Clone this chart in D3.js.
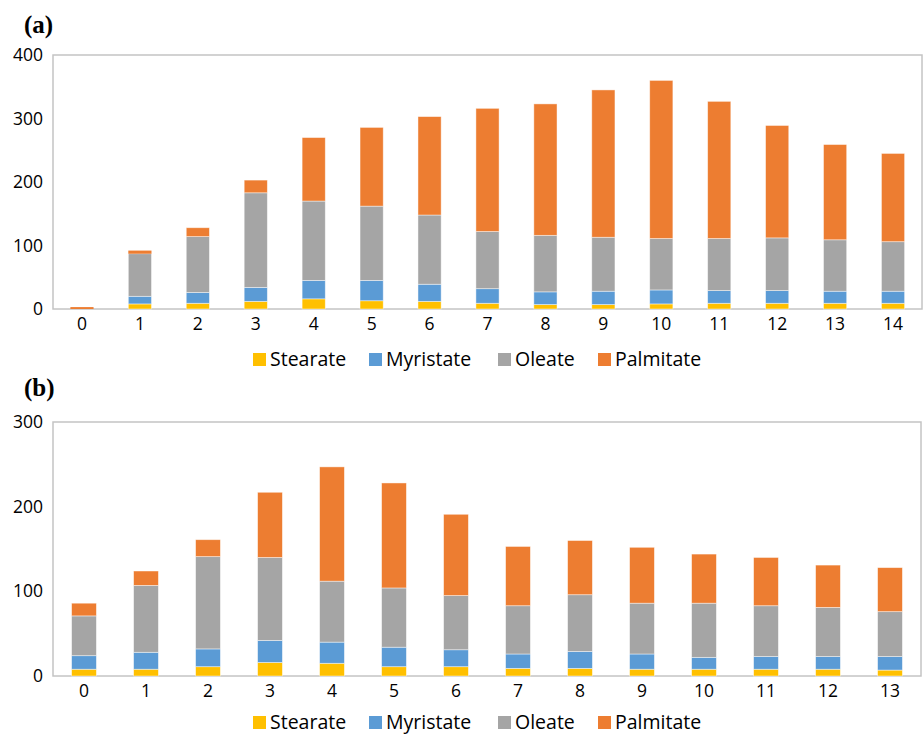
<!DOCTYPE html>
<html>
<head>
<meta charset="utf-8">
<script src="https://cdn.jsdelivr.net/npm/d3@7"></script>
<style>
  html, body { margin: 0; padding: 0; background: #fff; }
  svg { display: block; }
  .tick-label, .legend-label { font-family: "Open Sans", "Noto Sans", sans-serif; fill: #000; }
  .panel-label { font-family: "Liberation Serif", "DejaVu Serif", serif; font-weight: bold; fill: #000; }
</style>
</head>
<body>
<svg id="chart" width="923" height="734"></svg>
<script>
// Fatty acid composition, stacked per sample index
const seriesNames = ["Stearate", "Myristate", "Oleate", "Palmitate"];
const seriesColors = ["#FFC000", "#5B9BD5", "#A5A5A5", "#ED7D31"];

// Panel (a)
const categoriesA = ["0","1","2","3","4","5","6","7","8","9","10","11","12","13","14"];
const stearateA  = [0,  8,  9,  12, 16, 13, 12,  9,   7,   7,   8,   9,   9,   9,   9];
const myristateA = [0, 12, 17,  22, 29, 32, 27, 23,  20,  21,  22,  20,  20,  19,  19];
const oleateA    = [0, 67, 88, 149,125,117,109, 90,  89,  85,  81,  82,  83,  81,  78];
const palmitateA = [3,  5, 14,  20,100,124,155,194, 207, 232, 249, 216, 177, 150, 139];
const yTicksA = [0, 100, 200, 300, 400];

// Panel (b)
const categoriesB = ["0","1","2","3","4","5","6","7","8","9","10","11","12","13"];
const stearateB  = [ 8,  8,  11, 16, 15, 11, 11,  9,  9,  8,  8,  8,  8,  7];
const myristateB = [16, 20,  21, 26, 25, 23, 20, 17, 20, 18, 14, 15, 15, 16];
const oleateB    = [47, 79, 109, 98, 72, 70, 64, 57, 67, 60, 64, 60, 58, 53];
const palmitateB = [15, 17,  20, 77,135,124, 96, 70, 64, 66, 58, 57, 50, 52];
const yTicksB = [0, 100, 200, 300];

const svg = d3.select("#chart");

function buildRows(categories, cols) {
  return categories.map((c, i) => {
    const row = { cat: c };
    seriesNames.forEach((s, k) => { row[s] = cols[k][i]; });
    return row;
  });
}

function drawPanel(opt) {
  const g = svg.append("g");
  const x = d3.scaleBand()
    .domain(opt.categories)
    .range([opt.left, opt.right])
    .paddingInner(0.6)
    .paddingOuter(0.3);
  const y = d3.scaleLinear()
    .domain([0, opt.yMax])
    .range([opt.bottom, opt.top]);

  const rows = buildRows(opt.categories, opt.cols);
  const stacked = d3.stack().keys(seriesNames)(rows);

  // plot-area frame, drawn under the bars
  g.append("rect")
    .attr("x", opt.left)
    .attr("y", opt.top)
    .attr("width", opt.right - opt.left)
    .attr("height", opt.bottom - opt.top)
    .attr("fill", "none")
    .attr("stroke", "#c4c4c4")
    .attr("stroke-width", 1.5);

  // stacked bars (thin light edge only on segments tall enough to show it)
  g.selectAll("g.series")
    .data(stacked)
    .join("g")
      .attr("class", "series")
      .attr("fill", (d, i) => seriesColors[i])
    .selectAll("rect")
    .data(d => d.filter(s => s[1] > s[0]))
    .join("rect")
      .attr("x", d => x(d.data.cat))
      .attr("width", x.bandwidth())
      .attr("y", d => y(d[1]))
      .attr("height", d => Math.max(0, y(d[0]) - y(d[1])))
      .attr("stroke", d => (y(d[0]) - y(d[1]) > 4 ? "rgba(255,255,255,0.55)" : "none"))
      .attr("stroke-width", 0.8);

  // y axis labels
  const yAxis = d3.axisLeft(y).tickValues(opt.yTicks).tickSize(0).tickPadding(10);
  const ya = g.append("g").attr("transform", `translate(${opt.left},0)`).call(yAxis);
  ya.select(".domain").remove();
  ya.selectAll("text").attr("class", "tick-label").style("font-size", "17.5px").attr("fill", "#000");

  // x axis labels
  const xAxis = d3.axisBottom(x).tickSize(0).tickPadding(9);
  const xa = g.append("g").attr("transform", `translate(0,${opt.bottom})`).call(xAxis);
  xa.select(".domain").remove();
  xa.selectAll("text").attr("class", "tick-label").style("font-size", "17.5px").attr("fill", "#000");

  // panel letter
  g.append("text")
    .attr("class", "panel-label")
    .attr("x", 24)
    .attr("y", opt.labelY)
    .style("font-size", "25px")
    .text(opt.label);

  // legend
  const lg = g.append("g").attr("transform", `translate(0,${opt.legendY})`);
  const legendX = [253, 369, 498, 598];
  seriesNames.forEach((s, i) => {
    lg.append("rect")
      .attr("x", legendX[i])
      .attr("y", -6)
      .attr("width", 13)
      .attr("height", 13)
      .attr("fill", seriesColors[i]);
    lg.append("text")
      .attr("class", "legend-label")
      .attr("x", legendX[i] + 17)
      .attr("y", 0)
      .attr("dy", "0.35em")
      .style("font-size", "19.5px")
      .text(s);
  });
}

drawPanel({
  label: "(a)", labelY: 33,
  categories: categoriesA,
  cols: [stearateA, myristateA, oleateA, palmitateA],
  yMax: 400, yTicks: yTicksA,
  left: 53, right: 922, top: 55, bottom: 309,
  legendY: 359
});

drawPanel({
  label: "(b)", labelY: 396,
  categories: categoriesB,
  cols: [stearateB, myristateB, oleateB, palmitateB],
  yMax: 300, yTicks: yTicksB,
  left: 53, right: 921, top: 422, bottom: 676,
  legendY: 722
});
</script>
</body>
</html>
